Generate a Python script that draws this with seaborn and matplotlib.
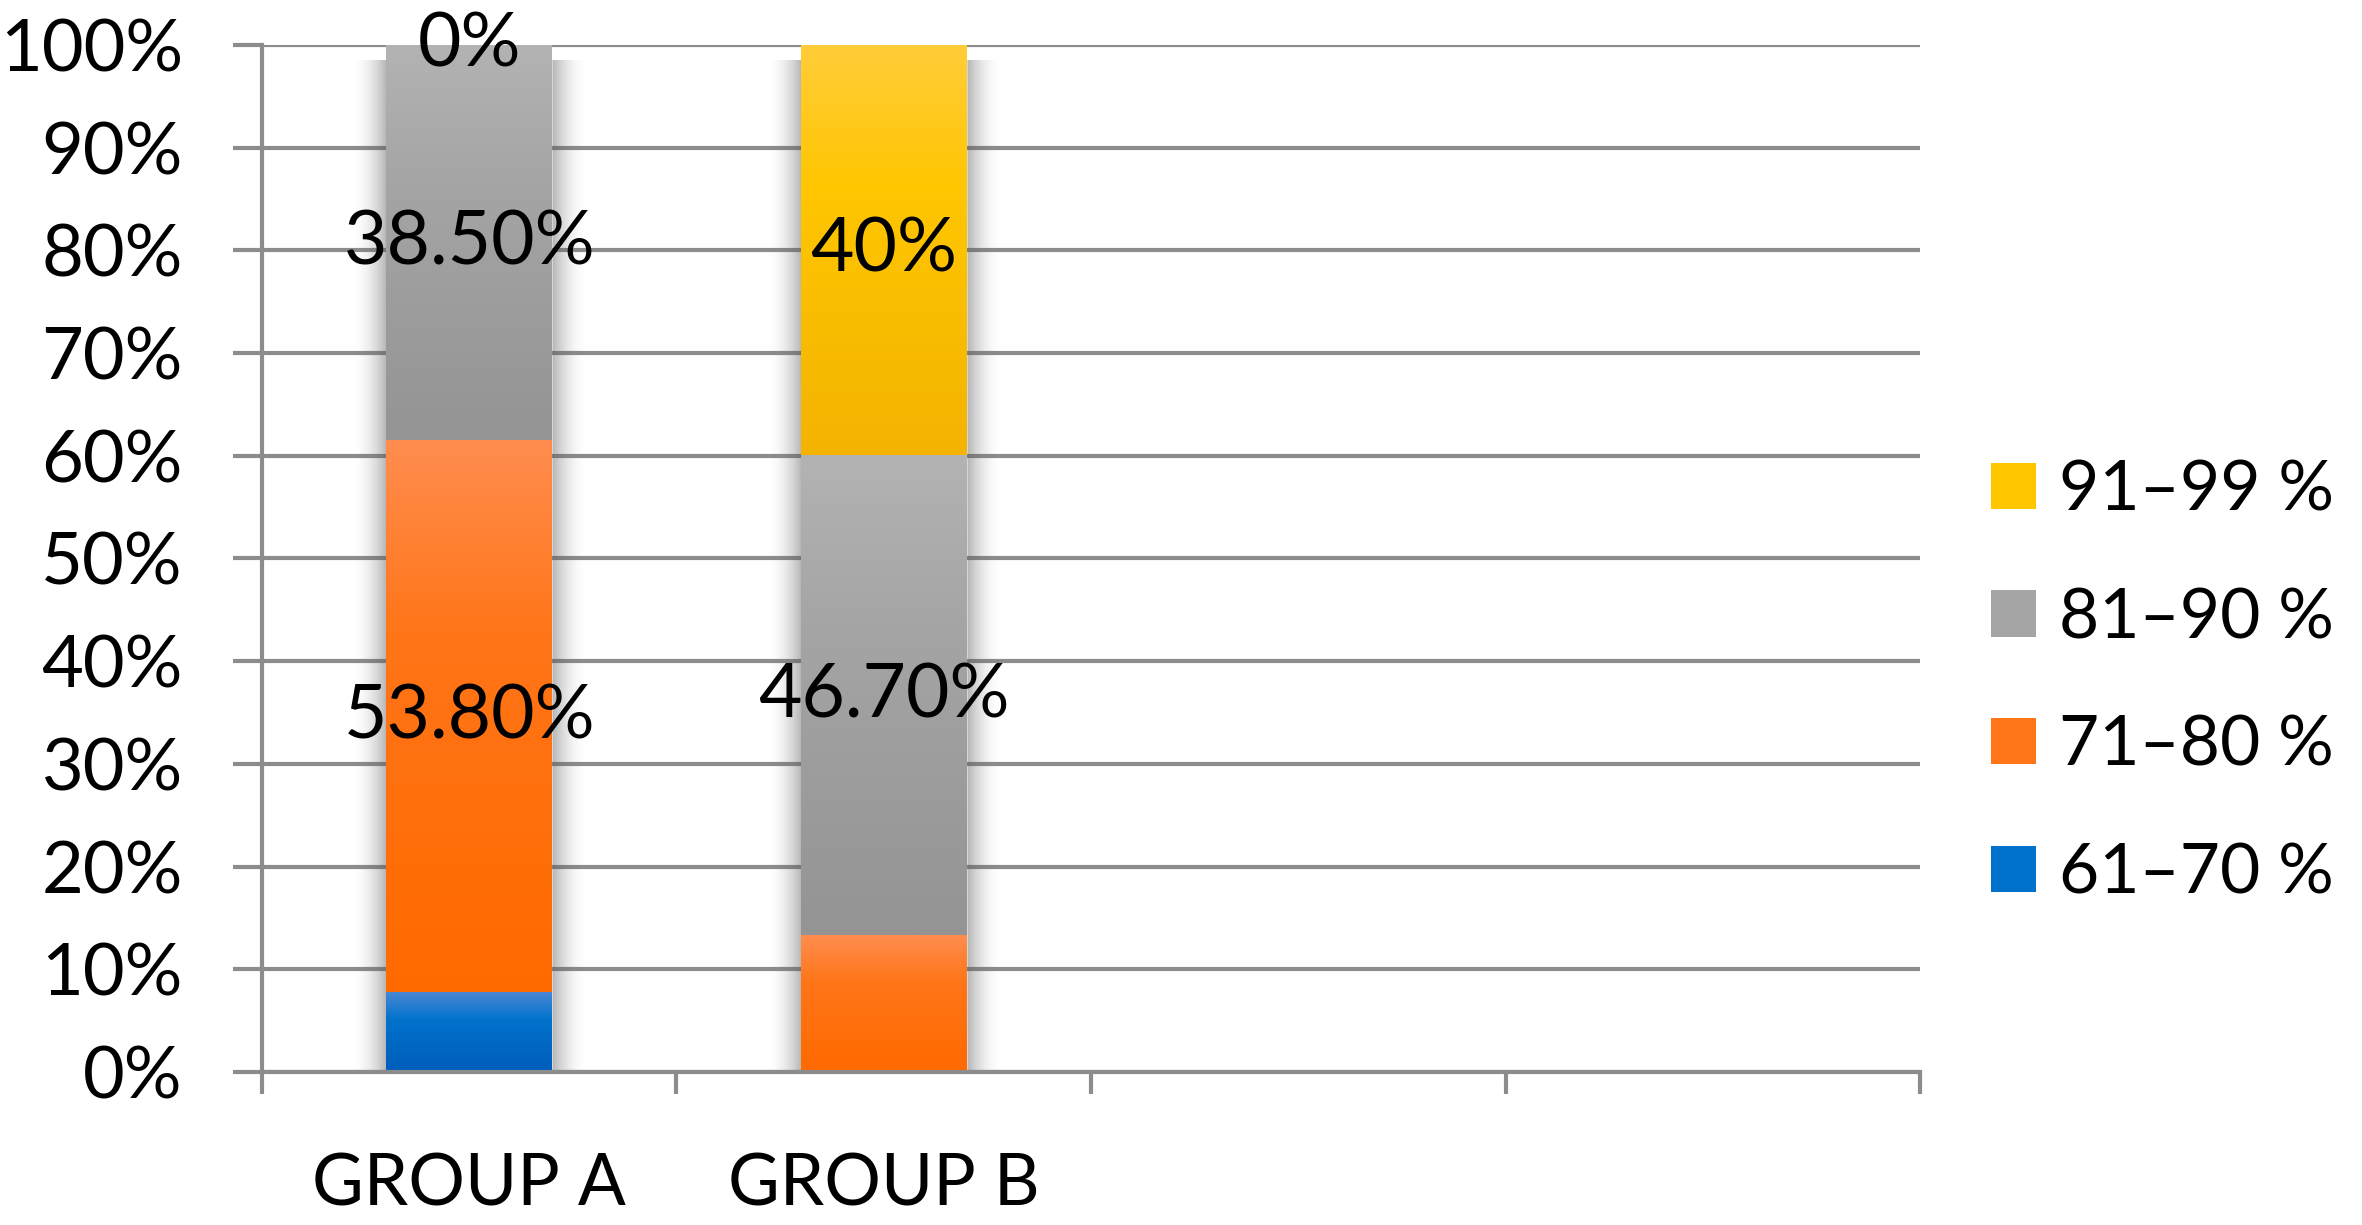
import numpy as np
import pandas as pd
import matplotlib
matplotlib.use("Agg")
import matplotlib.pyplot as plt
import matplotlib.colors as mcolors
from matplotlib.patches import Patch
import seaborn as sns

# ---------------- data ----------------
slots = ["GROUP A", "GROUP B", " ", "  "]
groups = ["GROUP A", "GROUP B"]
bands = ["61–70 %", "71–80 %", "81–90 %", "91–99 %"]
group_a = [7.7, 53.8, 38.5, 0.0]
group_b = [0.0, 13.3, 46.7, 40.0]
labels_a = ["", "53.80%", "38.50%", "0%"]
labels_b = ["", "", "46.70%", "40%"]
y_ticks = [0, 10, 20, 30, 40, 50, 60, 70, 80, 90, 100]
y_ticklabels = [f"{v}%" for v in y_ticks]

# gradient stops (top, middle, bottom) per band
band_grad = {
    "61–70 %": ["#4a87d4", "#0072cc", "#005dbb"],
    "71–80 %": ["#ff8d4f", "#ff7518", "#ff6a00"],
    "81–90 %": ["#b3b3b3", "#a5a5a5", "#949494"],
    "91–99 %": ["#ffcd3a", "#ffc600", "#f4b300"],
}
band_color = {b: c[1] for b, c in band_grad.items()}

rows = []
for g, vals, labs in [("GROUP A", group_a, labels_a), ("GROUP B", group_b, labels_b)]:
    cum = 0.0
    for b, v, l in zip(bands, vals, labs):
        rows.append(dict(group=g, band=b, value=v, bottom=cum, cum=cum + v, label=l))
        cum += v
df = pd.DataFrame(rows)

# ---------------- style ----------------
sns.set_style("white")
FONT = ["Lato", "DejaVu Sans"]
plt.rcParams["font.family"] = FONT
plt.rcParams["text.color"] = "black"
plt.rcParams["xtick.labelcolor"] = "black"
plt.rcParams["ytick.labelcolor"] = "black"
GRID = "#8c8c8c"
FS_Y = 52
FS_X = 51
FS_LAB = 54
FS_LEG = 50

fig = plt.figure(figsize=(23.62, 12.25), dpi=100)
ax = fig.add_axes([0.1109, 0.1249, 0.7020, 0.8384])

BAR_W = 0.4
# draw cumulative layers, top band first so lower ones overlay
for b in bands[::-1]:
    sub = df[df.band == b]
    n_before = len(ax.patches)
    sns.barplot(data=sub, x="group", y="cum", order=slots, color=band_color[b],
                width=BAR_W, saturation=1, errorbar=None, ax=ax, zorder=3,
                linewidth=0)
    new = ax.patches[n_before:]
    for p in new:
        idx = int(round(p.get_x() + p.get_width() / 2))
        if idx >= len(groups):
            continue
        r = sub[sub.group == slots[idx]].iloc[0]
        if r.value <= 0:
            continue
        cmap = mcolors.LinearSegmentedColormap.from_list(
            "g", list(zip([0.0, 0.35, 1.0], band_grad[b])))
        grad = np.linspace(0, 1, 256).reshape(-1, 1)
        ax.imshow(grad, cmap=cmap, aspect="auto", origin="upper",
                  extent=[p.get_x(), p.get_x() + p.get_width(), r.bottom, r.cum],
                  zorder=3.5, interpolation="bilinear")

# soft side shadow around each stacked bar
SH = 0.085
for g in groups:
    x = slots.index(g)
    top = df[df.group == g].cum.max()
    xs = np.linspace(-0.5, 0.5, 400) * (BAR_W + 2 * SH)
    dist = np.clip(np.abs(xs) - BAR_W / 2, 0, None) / SH
    alpha = np.where(np.abs(xs) <= BAR_W / 2, 0.0, 0.45 * (1 - np.clip(dist, 0, 1)) ** 2)
    rgba = np.zeros((1, xs.size, 4))
    rgba[..., :3] = 0.35
    rgba[0, :, 3] = alpha
    ax.imshow(rgba, aspect="auto", extent=[x + xs[0], x + xs[-1], 0, top * 0.985],
              zorder=2.5, interpolation="bilinear")

# data labels
for _, r in df.iterrows():
    if r.label:
        x = slots.index(r.group)
        ax.text(x, r.bottom + r.value / 2, r.label, ha="center", va="center",
                fontsize=FS_LAB, color="black", zorder=6, family=FONT)

# axes
ax.set_xlim(-0.5, len(slots) - 0.5)
ax.set_ylim(0, 100)
ax.set_yticks(y_ticks)
ax.set_yticklabels(y_ticklabels)
ax.set_xlabel("")
ax.set_ylabel("")
ax.yaxis.grid(True, color=GRID, linewidth=3, zorder=0)
ax.set_axisbelow(True)
for s in ["top", "right"]:
    ax.spines[s].set_visible(False)
for s in ["left", "bottom"]:
    ax.spines[s].set_color(GRID)
    ax.spines[s].set_linewidth(3)
    ax.spines[s].set_zorder(4)
ax.tick_params(axis="y", left=True, length=21, width=3, color=GRID, pad=36,
               labelsize=FS_Y, labelcolor="black")
ax.tick_params(axis="x", which="major", bottom=True, length=0, pad=58,
               labelsize=FS_X, labelcolor="black")
ax.set_xticks(np.arange(-0.5, len(slots)), minor=True)
ax.tick_params(axis="x", which="minor", bottom=True, length=16, width=3, color=GRID)

handles = [Patch(facecolor=band_color[b], edgecolor="none") for b in bands[::-1]]
leg = fig.legend(handles, bands[::-1], loc="center left", bbox_to_anchor=(0.831, 0.443),
                 frameon=False, fontsize=FS_LEG, handlelength=0.65, handleheight=0.65,
                 handletextpad=0.33, labelspacing=0.93, borderaxespad=0)
for t in leg.get_texts():
    t.set_color("black")

fig.savefig("out.png", dpi=100)
